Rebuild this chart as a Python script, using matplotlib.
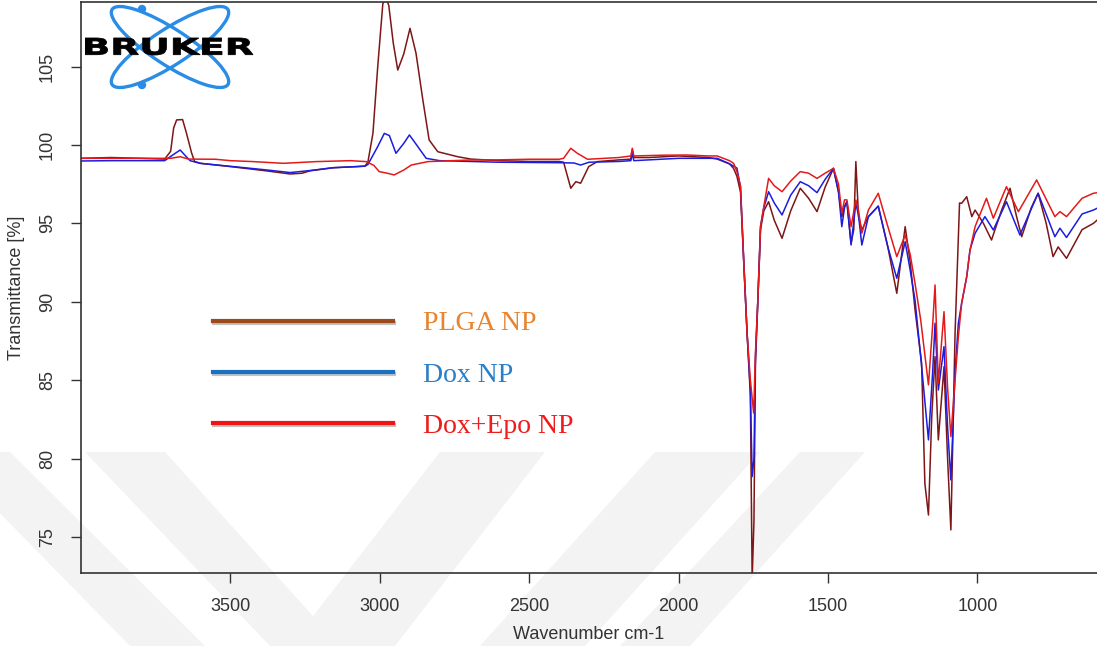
import matplotlib
matplotlib.use("Agg")
import matplotlib.pyplot as plt
from matplotlib.lines import Line2D
from matplotlib.patches import Ellipse, Circle, Polygon, PathPatch
from matplotlib.textpath import TextPath
from matplotlib.font_manager import FontProperties
from matplotlib.transforms import Affine2D
import matplotlib.patheffects as pe

# FTIR spectra (wavenumber cm-1, transmittance %)
plga_wn = [4000, 3900, 3800, 3720, 3700, 3690, 3680, 3660, 3647, 3630, 3620, 3600,
           3490, 3380, 3300, 3260, 3234, 3156, 3079, 3050, 3040, 3023, 3007, 2990,
           2980, 2970, 2955, 2940, 2920, 2899, 2879, 2856, 2835, 2806, 2739, 2695,
           2600, 2500, 2400, 2385, 2361, 2344, 2328, 2301, 2272, 2200, 2160, 2155,
           2150, 2100, 2000, 1950, 1900, 1871, 1830, 1816, 1805, 1793, 1782, 1771,
           1760, 1754, 1748, 1743, 1735, 1726, 1715, 1699, 1680, 1654, 1625, 1593,
           1565, 1537, 1510, 1482, 1465, 1454, 1445, 1437, 1423, 1414, 1407, 1398,
           1387, 1365, 1332, 1300, 1270, 1242, 1225, 1209, 1187, 1176, 1164, 1153,
           1142, 1131, 1112, 1100, 1089, 1075, 1060, 1053, 1036, 1019, 1008, 980,
           953, 920, 891, 870, 852, 820, 797, 770, 747, 730, 702, 650, 612, 600]
plga_t = [99.15, 99.2, 99.15, 99.1, 99.6, 101.08, 101.6, 101.62, 100.75, 99.5, 98.95, 98.83,
          98.6, 98.35, 98.15, 98.2, 98.35, 98.55, 98.62, 98.65, 98.9, 100.75, 105.0, 109.0,
          109.4, 108.9, 106.5, 104.78, 105.8, 107.44, 105.86, 102.87, 100.32, 99.57, 99.25, 99.1,
          99.0, 98.95, 98.95, 98.9, 97.24, 97.66, 97.56, 98.62, 98.94, 99.05, 99.1, 99.7,
          99.2, 99.2, 99.3, 99.25, 99.2, 99.1, 98.8, 98.5, 98.0, 97.0, 92.5, 88.0,
          84.0, 72.3, 76.0, 86.0, 90.0, 94.6, 95.8, 96.38, 95.2, 94.05, 95.8, 97.24,
          96.6, 95.75, 97.3, 98.51, 97.0, 95.43, 96.1, 96.38, 93.73, 94.6, 98.94, 95.43,
          94.58, 95.43, 96.1, 93.5, 90.54, 94.79, 92.5, 89.5, 86.1, 78.4, 76.4, 82.7,
          86.5, 81.19, 85.86, 80.0, 75.45, 88.0, 96.3, 96.28, 96.7, 95.43, 95.85, 95.0,
          93.94, 95.8, 97.24, 95.5, 94.15, 96.0, 96.92, 95.0, 92.88, 93.5, 92.77, 94.6, 95.0, 95.2]

dox_wn = [4000, 3900, 3800, 3720, 3690, 3668, 3650, 3635, 3601, 3490, 3380, 3300,
          3234, 3156, 3079, 3050, 3040, 3007, 2985, 2968, 2946, 2920, 2901, 2873,
          2845, 2800, 2700, 2600, 2400, 2350, 2328, 2300, 2200, 2160, 2155, 2150,
          2000, 1950, 1871, 1830, 1805, 1793, 1782, 1771, 1760, 1754, 1748, 1743,
          1735, 1726, 1715, 1699, 1680, 1654, 1625, 1593, 1565, 1537, 1510, 1482,
          1465, 1454, 1445, 1437, 1423, 1407, 1398, 1387, 1365, 1332, 1300, 1270,
          1242, 1225, 1209, 1190, 1164, 1150, 1142, 1131, 1112, 1100, 1089, 1075,
          1064, 1053, 1036, 1025, 1008, 975, 947, 903, 858, 797, 741, 724,
          702, 650, 612, 600]
dox_t = [98.98, 99.0, 99.0, 99.0, 99.4, 99.68, 99.3, 99.0, 98.83, 98.62, 98.41, 98.24,
         98.37, 98.55, 98.62, 98.65, 98.75, 99.9, 100.74, 100.6, 99.47, 100.1, 100.64, 99.9,
         99.15, 99.0, 98.95, 98.9, 98.87, 98.85, 98.72, 98.9, 98.95, 99.0, 99.47, 99.0,
         99.15, 99.15, 99.15, 98.8, 98.53, 97.3, 92.5, 88.0, 84.4, 78.85, 80.0, 86.5,
         90.1, 94.8, 96.0, 97.02, 96.3, 95.54, 96.8, 97.66, 97.4, 96.96, 97.8, 98.51,
         97.0, 94.79, 96.0, 96.38, 93.62, 96.28, 95.5, 93.62, 95.43, 96.1, 93.5, 91.5,
         93.83, 92.0, 90.1, 86.5, 81.19, 85.5, 88.63, 84.37, 87.14, 82.0, 78.64, 85.5,
         88.63, 89.9, 91.6, 93.3, 94.37, 95.43, 94.58, 96.38, 94.26, 96.92, 94.15, 94.69,
         94.1, 95.6, 95.85, 95.96]

doxepo_wn = [4000, 3900, 3800, 3700, 3668, 3640, 3550, 3500, 3423, 3323, 3213, 3099,
             3046, 3020, 3002, 2975, 2952, 2920, 2895, 2839, 2700, 2605, 2500, 2400,
             2385, 2361, 2339, 2305, 2200, 2160, 2155, 2150, 2050, 1971, 1900, 1871,
             1830, 1816, 1805, 1793, 1782, 1771, 1760, 1749, 1743, 1735, 1726, 1715,
             1699, 1680, 1654, 1625, 1593, 1565, 1537, 1510, 1482, 1465, 1454, 1445,
             1437, 1423, 1407, 1398, 1387, 1365, 1332, 1300, 1270, 1242, 1225, 1209,
             1190, 1164, 1150, 1142, 1131, 1112, 1100, 1089, 1075, 1064, 1053, 1036,
             1025, 1008, 970, 947, 903, 863, 802, 741, 724, 702, 650, 612, 600]
doxepo_t = [99.15, 99.15, 99.15, 99.15, 99.25, 99.1, 99.09, 99.0, 98.94, 98.83, 98.94, 99.0,
            98.94, 98.7, 98.3, 98.2, 98.09, 98.4, 98.72, 98.94, 99.04, 99.05, 99.09, 99.09,
            99.15, 99.79, 99.47, 99.09, 99.2, 99.3, 99.79, 99.3, 99.35, 99.36, 99.3, 99.3,
            99.0, 98.83, 98.3, 97.4, 92.5, 88.0, 85.0, 82.9, 86.7, 90.1, 94.8, 96.07,
            97.87, 97.4, 97.02, 97.7, 98.3, 98.2, 97.87, 98.2, 98.51, 97.5, 95.64, 96.5,
            96.5, 94.79, 96.49, 95.8, 94.37, 95.85, 96.92, 94.8, 92.88, 94.26, 93.0, 91.18,
            88.84, 84.7, 88.5, 91.07, 84.8, 89.37, 84.5, 81.4, 85.0, 87.77, 89.9, 91.6,
            93.3, 94.79, 96.6, 95.33, 97.34, 95.75, 97.77, 95.43, 95.75, 95.43, 96.6, 96.92, 96.95]

labels = ["PLGA NP", "Dox NP", "Dox+Epo NP"]
line_colors = ["#7d1616", "#1c1ce0", "#e41a1a"]
key_colors = ["#9c4a1c", "#1a6fc2", "#f01414"]
text_colors = ["#e8842e", "#2a7fc8", "#ee1c1c"]
xticks = [3500, 3000, 2500, 2000, 1500, 1000]
yticks = [75, 80, 85, 90, 95, 100, 105]

plt.rcParams['font.family'] = ['Liberation Sans', 'DejaVu Sans']

fig = plt.figure(figsize=(10.97, 6.46), dpi=100)

# faint watermark stripes in the background (figure pixels, y down)
bg = fig.add_axes([0, 0, 1, 1], zorder=-1)
bg.set_xlim(0, 1097)
bg.set_ylim(646, 0)
bg.axis('off')
stripes = [
    [(-60, 452), (10, 452), (205, 646), (130, 646)],
    [(85, 452), (165, 452), (340, 646), (270, 646)],
    [(440, 452), (545, 452), (395, 646), (290, 646)],
    [(655, 452), (760, 452), (585, 646), (480, 646)],
    [(800, 452), (865, 452), (690, 646), (620, 646)],
]
for s in stripes:
    bg.add_patch(Polygon(s, closed=True, fc='#f3f3f3', ec='none'))

ax = fig.add_axes([81 / 1097, 73 / 646, 1016 / 1097, 571 / 646])
ax.set_facecolor('none')
for wn, t, c in [(plga_wn, plga_t, line_colors[0]),
                 (dox_wn, dox_t, line_colors[1]),
                 (doxepo_wn, doxepo_t, line_colors[2])]:
    ax.plot(wn, t, color=c, lw=1.1)

ax.set_xlim(4000, 600)
ax.set_ylim(72.7, 109.12)
ax.set_xticks(xticks)
ax.set_yticks(yticks)
ax.spines['right'].set_visible(False)
for sp in ['left', 'top', 'bottom']:
    ax.spines[sp].set_color('#333333')
    ax.spines[sp].set_linewidth(1.2)
ax.tick_params(direction='out', length=7, width=1, color='#333333',
               labelcolor='#333333', labelsize=13, pad=11)
for lab in ax.get_yticklabels():
    lab.set_rotation(90)
    lab.set_va('center')

ax.set_xlabel("Wavenumber cm-1", fontsize=13, color='#333333')
ax.set_ylabel("Transmittance [%]", fontsize=13, color='#333333')
ax.xaxis.set_label_coords(0.5, -0.093)
ax.yaxis.set_label_coords(-0.055, 0.5)

# legend drawn as coloured keys with serif labels
shadow = [pe.SimpleLineShadow(offset=(0.5, -1.5), shadow_color='#777777', alpha=0.45),
          pe.Normal()]
handles = [Line2D([], [], color=c, lw=3, path_effects=shadow) for c in key_colors]
fig.legend(handles, labels, loc='upper left',
           bbox_to_anchor=(213 / 1097, 1 - 311 / 646),
           frameon=False, prop={'family': 'Liberation Serif', 'size': 20},
           handlelength=6.48, handletextpad=1.08, labelspacing=0.93,
           borderpad=0, borderaxespad=0, labelcolor=text_colors)

# Bruker logo
lg = fig.add_axes([85 / 1097, 1 - 92 / 646, 170 / 1097, 88 / 646])
lg.set_xlim(85, 255)
lg.set_ylim(92, 4)
lg.axis('off')
for ang in (33, -33):
    lg.add_patch(Ellipse((170, 47), 138, 36, angle=ang, fill=False,
                         ec='#2b8ce6', lw=2.4))
lg.add_patch(Circle((142, 9), 3.5, color='#2b8ce6'))
lg.add_patch(Circle((142, 85), 3.5, color='#2b8ce6'))
tp = TextPath((0, 0), "BRUKER", size=1,
              prop=FontProperties(family='DejaVu Sans', weight='bold'))
ext = tp.get_extents()
fit = (Affine2D().translate(-ext.x0, -ext.y0)
       .scale(168 / ext.width, -17 / ext.height).translate(85, 55))
lg.add_patch(PathPatch(fit.transform_path(tp), fc='black', ec='black', lw=0.6))

fig.savefig("out.png", dpi=100)
